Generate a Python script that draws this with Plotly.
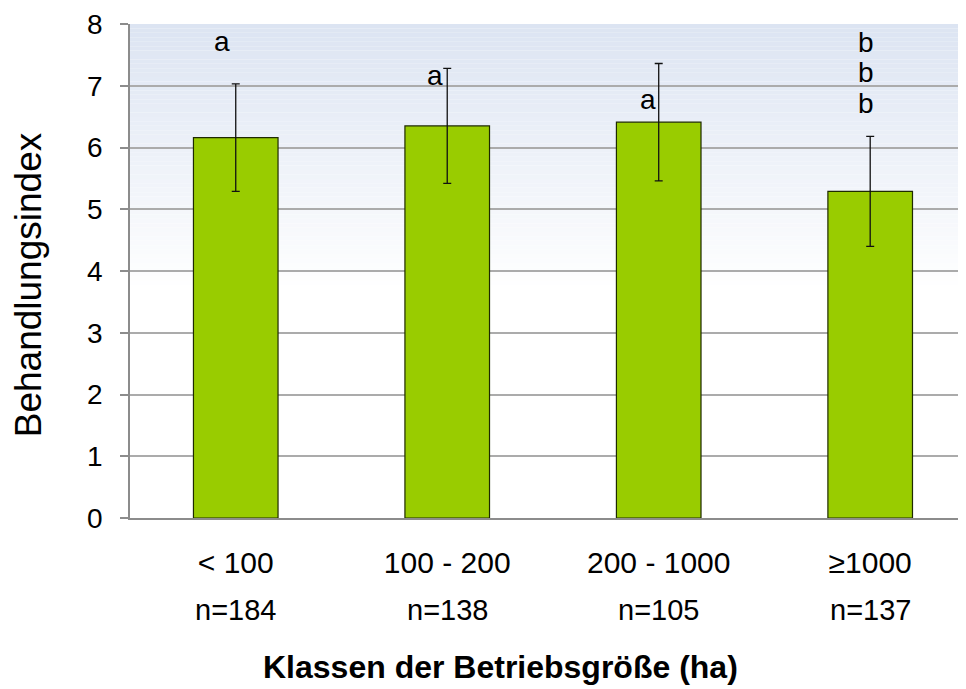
import plotly.graph_objects as go

categories = ["< 100", "100 - 200", "200 - 1000", "≥1000"]
n_labels = ["n=184", "n=138", "n=105", "n=137"]
means = [6.16, 6.35, 6.41, 5.29]
errors = [0.87, 0.93, 0.95, 0.89]
letters = [["a"], ["a"], ["a"], ["b", "b", "b"]]
letter_y = [[7.71], [7.17], [6.78], [7.70, 7.22, 6.71]]
letter_dx = [-0.067, -0.06, -0.053, -0.018]

x_idx = list(range(len(categories)))
FONT = "Liberation Sans, Arial"

fig = go.Figure()
fig.add_trace(go.Bar(
    x=x_idx, y=means, width=0.40,
    marker=dict(color="#99cc00", line=dict(color="#1e2a00", width=1.2)),
    error_y=dict(type="data", array=errors, visible=True, color="#111111",
                 thickness=1.3, width=4),
    showlegend=False,
))

# gradient background strips (top light blue -> white)
top_rgb = (220, 228, 242)
n_strips = 60
y_top, y_end = 8.0, 3.7
for i in range(n_strips):
    y0 = y_top - (y_top - y_end) * i / n_strips
    y1 = y_top - (y_top - y_end) * (i + 1) / n_strips
    t = (i + 0.5) / n_strips
    c = tuple(round(top_rgb[k] + (255 - top_rgb[k]) * t) for k in range(3))
    fig.add_shape(type="rect", xref="paper", yref="y", x0=0, x1=1, y0=y1, y1=y0,
                  fillcolor="rgb(%d,%d,%d)" % c, line=dict(width=0), layer="below")

annotations = []
for i, (ls, ys) in enumerate(zip(letters, letter_y)):
    for l, yy in zip(ls, ys):
        annotations.append(dict(x=i + letter_dx[i], y=yy, xref="x", yref="y", text=l,
                                showarrow=False,
                                font=dict(family=FONT, size=28, color="#000")))
for i, nl in enumerate(n_labels):
    annotations.append(dict(x=i, y=0, xref="x", yref="paper", text=nl, showarrow=False,
                            yshift=-92, yanchor="middle",
                            font=dict(family=FONT, size=29, color="#000")))
annotations.append(dict(x=0.4426, y=0, xref="paper", yref="paper", yshift=-149,
                        text="<b>Klassen der Betriebsgröße (ha)</b>", showarrow=False,
                        xanchor="center", yanchor="middle",
                        font=dict(family=FONT, size=32, color="#000")))
annotations.append(dict(x=-0.1215, y=0.472, xref="paper", yref="paper",
                        text="Behandlungsindex", showarrow=False, textangle=-90,
                        xanchor="center", yanchor="middle",
                        font=dict(family=FONT, size=37, color="#000")))

fig.update_layout(
    width=958, height=681,
    margin=dict(l=122, r=0, t=16, b=171, autoexpand=False),
    paper_bgcolor="white", plot_bgcolor="rgba(0,0,0,0)",
    font=dict(family=FONT, color="#000"),
    annotations=annotations,
)
fig.update_xaxes(
    range=[-0.5, 3.453], tickmode="array", tickvals=x_idx, ticktext=categories,
    tickfont=dict(size=30), showline=True, linecolor="#8c8c8c", linewidth=1.5,
    ticks="", showgrid=False, zeroline=False, ticklabelstandoff=17, automargin=False,
)
fig.update_yaxes(
    range=[0, 8], dtick=1, tickfont=dict(size=28), showline=True, linecolor="#8c8c8c",
    linewidth=1.5, ticks="outside", ticklen=8, tickcolor="#8c8c8c", tickwidth=1.5,
    showgrid=True, gridcolor="#ababab", gridwidth=1.5, zeroline=False,
    ticklabelstandoff=12, automargin=False,
)

fig.write_html("out.html")
